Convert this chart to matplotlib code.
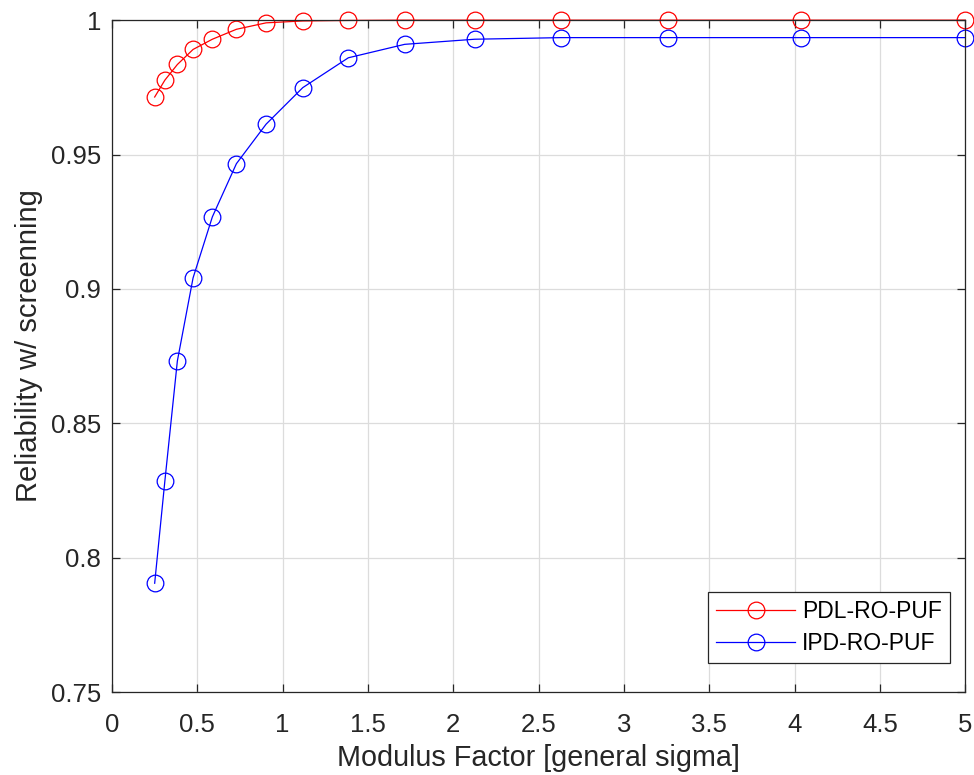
import matplotlib.pyplot as plt

plt.rcParams['font.family'] = ['Liberation Sans', 'DejaVu Sans']

# modulus factor (x) values
modulus = [0.25, 0.31, 0.383, 0.475, 0.588, 0.729, 0.903, 1.118, 1.385, 1.715,
           2.125, 2.632, 3.26, 4.037, 5.0]

# reliability with screening
pdl_ro_puf = [0.9714, 0.9777, 0.9835, 0.9891, 0.9929, 0.9966, 0.999, 0.9997, 0.9999, 1.0,
              1.0, 1.0, 1.0, 1.0, 1.0]
ipd_ro_puf = [0.7905, 0.8287, 0.8732, 0.9041, 0.9268, 0.9466, 0.9613, 0.9749, 0.986, 0.991,
              0.9929, 0.9935, 0.9935, 0.9935, 0.9935]

x_ticks = [0, 0.5, 1, 1.5, 2, 2.5, 3, 3.5, 4, 4.5, 5]
x_tick_labels = ['0', '0.5', '1', '1.5', '2', '2.5', '3', '3.5', '4', '4.5', '5']
y_ticks = [0.75, 0.8, 0.85, 0.9, 0.95, 1.0]
y_tick_labels = ['0.75', '0.8', '0.85', '0.9', '0.95', '1']

axis_color = '#262626'

fig = plt.figure(figsize=(9.74, 7.75), dpi=100)
ax = fig.add_axes([0.115, 0.107, 0.876, 0.867])

ax.plot(modulus, pdl_ro_puf, color='red', linewidth=0.9, marker='o', markersize=12,
        markerfacecolor='none', markeredgewidth=0.9, label='PDL-RO-PUF', clip_on=False)
ax.plot(modulus, ipd_ro_puf, color='blue', linewidth=0.9, marker='o', markersize=12,
        markerfacecolor='none', markeredgewidth=0.9, label='IPD-RO-PUF', clip_on=False)

ax.set_xlim(0, 5)
ax.set_ylim(0.75, 1)
ax.set_xticks(x_ticks)
ax.set_xticklabels(x_tick_labels)
ax.set_yticks(y_ticks)
ax.set_yticklabels(y_tick_labels)

ax.grid(True, color='#dcdcdc', linewidth=0.9)
ax.set_axisbelow(True)
ax.tick_params(direction='in', length=6, width=0.9, colors=axis_color,
               labelsize=18.5, top=True, right=True)
ax.tick_params(axis='x', pad=15)
ax.tick_params(axis='y', pad=8)
for spine in ax.spines.values():
    spine.set_color(axis_color)
    spine.set_linewidth(0.9)

ax.set_xlabel('Modulus Factor [general sigma]', fontsize=20.7, color=axis_color)
ax.set_ylabel('Reliability w/ screenning', fontsize=21, color=axis_color)
ax.xaxis.set_label_coords(0.5, -0.077)
ax.yaxis.set_label_coords(-0.081, 0.516)

leg = ax.legend(loc='lower right', bbox_to_anchor=(0.9824, 0.0432), fontsize=16.5,
                handlelength=3.45, fancybox=False, framealpha=1, edgecolor=axis_color,
                borderaxespad=0, borderpad=0.35, labelspacing=0.38, handletextpad=0.3)
leg.get_frame().set_linewidth(0.9)

fig.savefig('out.png', dpi=100)
